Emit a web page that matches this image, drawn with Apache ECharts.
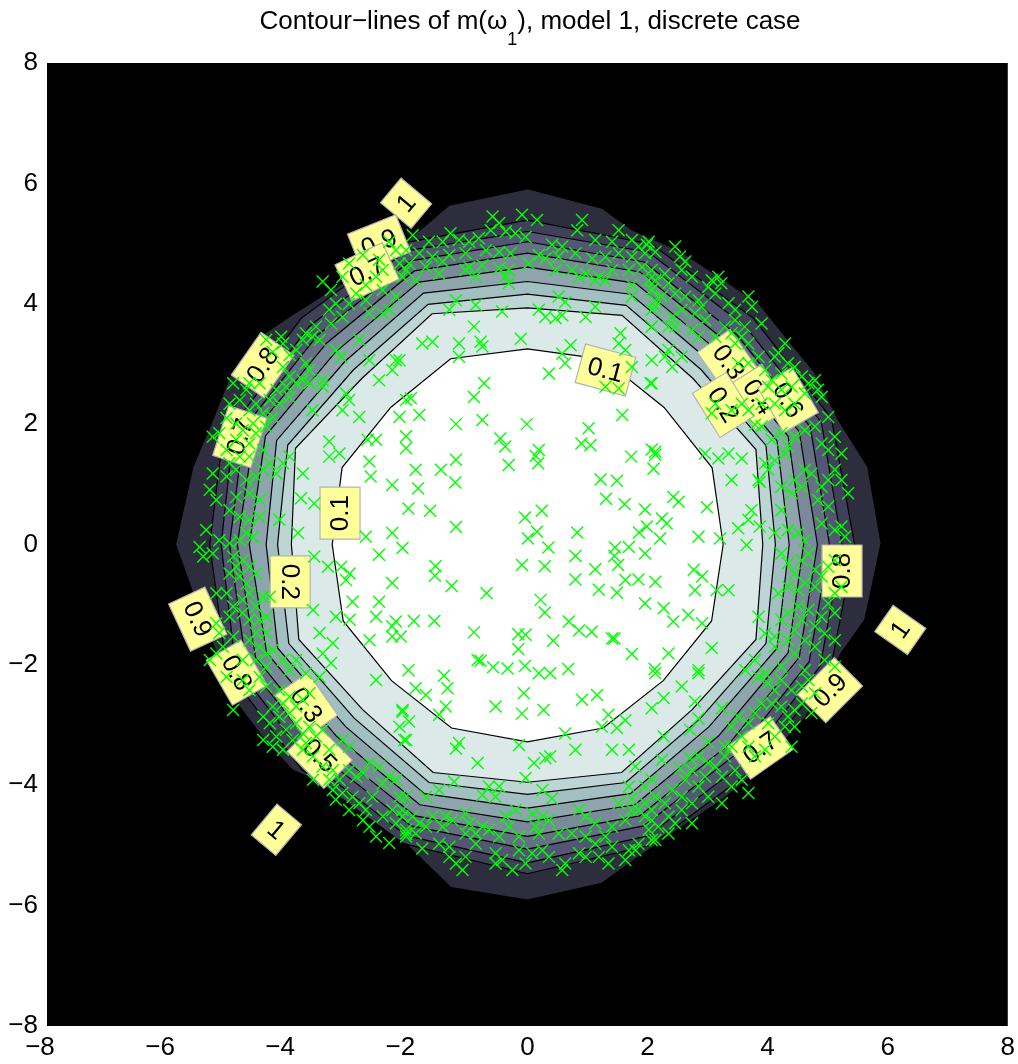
<!DOCTYPE html>
<html>
<head>
<meta charset="utf-8">
<script src="https://cdn.jsdelivr.net/npm/echarts@6/dist/echarts.min.js"></script>
<style>
  html, body { margin: 0; padding: 0; background: #ffffff; }
  #chart { width: 1018px; height: 1064px; }
</style>
</head>
<body>
<div id="chart"></div>
<script>
// ---- contour levels (inner ones given as radii every 22.5 degrees, counter-clockwise from +x) ----
const contourLevels = [0.1, 0.2, 0.3, 0.4, 0.5, 0.6, 0.7, 0.8, 0.9];
const radiusAngleStep = 22.5;
const levelRadii = [
  [3.26, 3.33, 3.22, 3.33, 3.25, 3.34, 3.22, 3.34, 3.25, 3.32, 3.20, 3.30, 3.28, 3.30, 3.20, 3.32],
  [3.92, 4.12, 3.90, 4.12, 3.93, 4.15, 3.90, 4.18, 3.93, 4.12, 3.88, 4.10, 3.95, 4.10, 3.88, 4.12],
  [4.13, 4.30, 4.10, 4.30, 4.16, 4.32, 4.10, 4.32, 4.16, 4.30, 4.08, 4.28, 4.15, 4.28, 4.08, 4.30],
  [4.36, 4.50, 4.30, 4.50, 4.37, 4.52, 4.30, 4.52, 4.35, 4.50, 4.28, 4.48, 4.38, 4.48, 4.28, 4.50],
  [4.60, 4.70, 4.52, 4.70, 4.61, 4.72, 4.52, 4.72, 4.63, 4.70, 4.50, 4.68, 4.61, 4.68, 4.50, 4.70],
  [4.83, 4.90, 4.73, 4.90, 4.84, 4.92, 4.73, 4.92, 4.83, 4.90, 4.72, 4.88, 4.85, 4.88, 4.72, 4.90],
  [5.03, 5.10, 4.93, 5.08, 5.03, 5.10, 4.93, 5.10, 4.96, 5.08, 4.92, 5.06, 5.06, 5.06, 4.92, 5.08],
  [5.24, 5.30, 5.13, 5.26, 5.20, 5.28, 5.13, 5.28, 5.10, 5.26, 5.12, 5.24, 5.29, 5.24, 5.12, 5.28],
  [5.45, 5.48, 5.32, 5.40, 5.39, 5.42, 5.32, 5.45, 5.29, 5.42, 5.30, 5.38, 5.47, 5.40, 5.30, 5.46]
];
// level 1 contour, vertex list
const outerContour = [
  [5.89, 0.02], [5.67, 1.29], [5.18, 2.07], [4.79, 2.85], [4.34, 3.40], [3.85, 4.01],
  [3.02, 4.56], [2.57, 4.86], [1.74, 5.23], [1.24, 5.59], [0, 5.91], [-1.30, 5.64],
  [-2.13, 4.94], [-3.13, 4.31], [-3.80, 3.89], [-4.46, 3.45], [-4.96, 2.78], [-5.24, 2.07],
  [-5.57, 1.29], [-5.86, 0], [-5.57, -0.81], [-5.18, -1.80], [-4.79, -2.70], [-4.35, -3.28],
  [-3.91, -3.75], [-3.25, -4.03], [-2.42, -4.58], [-1.80, -5.19], [-1.27, -5.70], [0, -5.91],
  [1.24, -5.63], [2.18, -4.96], [3.30, -4.20], [3.85, -3.75], [4.63, -2.87], [5.23, -1.80],
  [5.62, -1.25]
];
// fill inside each contour, outermost (level 1) first
const bandColors = ['#2d2d3e', '#404059', '#545474', '#676f87', '#7b8a9b',
                    '#8ea5ae', '#a2bfc2', '#bdd5d5', '#dce9e9', '#ffffff'];

// ---- contour labels ----
const labelTexts = ['1', '0.9', '0.7', '0.8', '0.7', '0.1', '0.2', '0.9', '0.8', '0.3', '0.5',
                    '1', '0.1', '0.3', '0.4', '0.6', '0.2', '0.8', '1', '0.9', '0.7'];
const labelAt = [[-2.02, 5.67], [-2.47, 5.01], [-2.67, 4.53], [-4.41, 2.98], [-4.79, 1.79],
                 [-3.12, 0.52], [-3.95, -0.62], [-5.49, -1.24], [-4.84, -2.13], [-3.68, -2.67],
                 [-3.46, -3.51], [-4.18, -4.74], [1.30, 2.90], [3.35, 3.03], [3.85, 2.45],
                 [4.34, 2.40], [3.26, 2.32], [5.24, -0.44], [6.21, -1.42], [5.04, -2.42],
                 [3.88, -3.38]];
const labelAngle = [50, 22, 25, 55, 72, 90, -90, -65, -60, -55, -45, -40, -15, -55, -58, -60,
                    -58, 90, 55, 45, 35];

// ---- observations (x marks) ----
const observations = [
  // centre
  [-1.19,2.00],[-0.75,2.07],[-0.01,2.00],[1.02,1.93],[-2.02,1.80],[-2.02,1.60],[-0.45,1.76],[-0.37,1.63],
  [0.19,1.57],[0.14,1.47],[0.18,1.35],[-0.31,1.32],[0.90,1.68],[1.05,1.65],[1.73,1.46],[2.07,1.58],
  [2.13,1.49],[2.10,1.26],[-1.86,1.24],[-1.44,1.24],[-1.19,1.41],[-1.20,1.03],[-1.82,0.93],[1.22,1.08],
  [1.49,1.06],[1.31,0.76],[1.62,0.67],[1.96,0.58],[-1.98,0.60],[-1.62,0.56],[-1.19,0.29],[-0.04,0.45],
  [0.24,0.56],[0.16,0.21],[0.01,0.10],[0.35,-0.05],[0.83,0.20],[1.86,0.20],[1.99,0.30],[1.46,-0.05],
  [1.69,-0.04],[1.45,-0.19],[1.96,-0.15],[1.51,-0.34],[-2.08,-0.06],[-1.53,-0.36],[-1.54,-0.52],
  [-1.26,-0.69],[-0.09,-0.34],[0.29,-0.36],[0.80,-0.19],[0.80,-0.58],[1.13,-0.41],[1.19,-0.75],
  [1.49,-0.80],[1.63,-0.59],[1.85,-0.58],[2.13,-0.62],[1.96,-0.98],[-0.68,-0.81],[0.22,-0.92],
  [0.29,-1.13],[-1.89,-1.27],[-1.55,-1.27],[-0.89,-1.46],[-0.15,-1.49],[-0.03,-1.50],[0.69,-1.28],
  [0.86,-1.43],[1.07,-1.45],[1.41,-1.56],[1.45,-1.56],[0.43,-1.60],[1.74,-1.82],[-0.15,-1.74],
  [-0.83,-1.92],[-0.78,-1.93],[-0.57,-2.04],[-0.33,-2.06],[-0.04,-2.02],[-1.98,-2.09],[-1.39,-2.18],
  [0.19,-2.14],[0.38,-2.14],[0.68,-2.07],[2.12,-2.07],[-2.11,-1.53],
  // top
  [-0.58,5.45],[-0.09,5.48],[0.16,5.39],[0.91,5.39],[1.52,5.22],[0.83,5.22],[-0.61,5.22],[-0.47,5.34],
  [-0.36,5.20],[-1.28,5.17],[-1.91,5.14],[-1.64,5.03],[-1.41,5.03],[-1.14,5.06],[-0.97,5.03],[-0.81,5.09],
  [-0.20,5.17],[-0.03,5.11],[0.41,4.98],[0.58,4.95],[1.13,5.06],[1.41,5.03],[1.74,5.06],[1.85,4.95],
  [1.99,4.98],[2.13,4.86],[-2.02,4.89],[-1.80,4.84],[-1.58,4.78],[-1.30,4.81],[-1.03,4.84],[-0.69,4.89],
  [-0.47,4.86],[-0.28,4.84],[0.19,4.81],[0.30,4.75],[0.52,4.78],[0.80,4.84],[1.08,4.75],[1.30,4.78],
  [1.52,4.84],[1.74,4.78],[1.96,4.84],[-1.97,4.67],[-1.69,4.61],[-1.41,4.70],[-0.97,4.61],[-0.75,4.64],
  [-0.47,4.59],[-0.31,4.56],[0.02,4.67],[0.47,4.56],[0.74,4.56],[0.97,4.50],[1.19,4.45],[1.41,4.56],
  [1.69,4.56],[1.91,4.61],[2.07,4.56],[-2.08,4.45],[-1.86,4.39],[-1.47,4.50],[-1.03,4.56],[-0.86,4.45],
  [-0.36,4.45],[-0.31,4.34],[0.86,4.45],[1.13,4.39],[1.30,4.39],[1.74,4.31],[2.02,4.39],[2.07,4.23],
  [-1.19,4.06],[-0.86,3.98],[-1.30,3.90],[-0.42,3.87],[0.19,3.90],[0.30,3.78],[0.52,4.12],[0.63,4.03],
  [0.47,3.76],[0.58,3.81],[0.97,3.78],[1.13,3.95],[1.74,4.12],[2.13,4.06],[2.07,3.90],[1.55,3.51],
  [2.07,3.62],[1.63,3.23],[-0.89,3.62],[-1.75,3.34],[-1.58,3.37],[-1.14,3.34],[-0.78,3.37],[-0.75,3.29],
  [-1.14,3.12],[-0.11,3.42],[0.72,3.31],[0.58,3.17],[0.63,3.01],[0.36,2.84],[1.52,3.34],[1.74,2.95],
  [2.07,3.06],[-2.13,3.06],[1.30,2.62],[1.52,2.59],[2.05,2.68],[-1.94,2.43],[-0.89,2.45],[-0.72,2.68],
  [-1.80,2.15],[1.58,2.15],
  // upper left
  [-3.41,4.37],[-3.27,4.23],[-3.08,4.45],[-2.97,4.67],[-2.74,4.81],[-2.47,4.73],[-2.30,5.03],[-2.19,4.89],
  [-2.13,4.67],[-2.02,4.56],[-2.41,4.56],[-2.52,4.45],[-2.69,4.31],[-2.85,4.17],[-2.97,4.00],[-3.19,4.00],
  [-3.30,3.90],[-3.08,3.78],[-3.27,3.67],[-3.52,3.62],[-3.69,3.51],[-3.58,3.45],[-3.46,3.40],[-3.74,3.40],
  [-3.85,3.23],[-3.96,3.15],[-4.10,3.45],[-4.07,3.34],[-4.35,3.40],[-4.24,3.20],[-4.07,2.95],[-3.96,2.79],
  [-3.85,2.68],[-3.69,3.01],[-3.63,2.90],[-3.74,2.73],[-4.02,2.62],[-4.18,2.57],[-3.96,2.45],[-4.13,2.34],
  [-4.29,2.40],[-4.46,2.68],[-4.63,2.68],[-4.68,2.57],[-4.79,2.40],[-4.90,2.68],[-4.96,2.34],[-5.01,2.10],
  [-4.85,2.01],[-4.63,2.23],[-4.52,2.34],[-4.40,2.18],[-4.57,2.01],[-4.35,1.96],[-4.24,2.12],[-2.80,3.40],
  [-2.63,3.06],[-3.19,3.23],[-3.10,3.12],[-3.02,2.51],[-2.97,2.40],[-3.41,2.73],[-3.41,2.62],[-3.58,2.23],
  [-3.63,2.68],[-3.08,2.23],[-2.80,2.12],[-2.47,2.73],[-2.25,2.90],[-2.19,3.06],[-2.13,2.12],[-2.02,2.40],
  [-2.30,3.90],[-2.41,3.84],[-2.19,4.12],[-2.41,4.23],[-2.69,4.06],[-2.63,3.84],
  // upper right
  [2.02,5.03],[2.46,4.95],[2.54,4.78],[2.63,4.70],[2.57,4.56],[2.74,4.45],[2.29,4.50],[2.13,4.39],
  [2.35,4.34],[2.07,4.23],[2.24,4.12],[2.46,4.17],[2.63,4.12],[2.85,4.06],[3.07,4.39],[3.18,4.45],
  [3.23,4.34],[3.01,4.28],[3.13,4.17],[2.90,3.95],[2.79,3.84],[2.57,3.90],[2.41,3.78],[2.35,3.62],
  [2.46,3.62],[2.13,3.95],[2.07,3.62],[2.74,3.56],[2.85,3.45],[2.96,3.73],[3.35,4.01],[3.46,3.90],
  [3.68,4.12],[3.74,3.95],[3.46,3.73],[3.29,3.62],[3.13,3.45],[3.40,3.51],[3.57,3.45],[3.62,3.62],
  [3.90,3.67],[3.68,3.34],[3.46,3.34],[3.51,3.01],[3.68,3.01],[3.85,3.12],[3.96,2.90],[4.12,3.12],
  [4.29,3.34],[4.18,3.18],[4.34,3.01],[4.45,2.95],[4.23,2.84],[4.07,2.73],[4.01,2.62],[4.23,2.57],
  [4.40,2.62],[4.57,2.79],[4.68,2.68],[4.79,2.73],[4.62,2.51],[4.84,2.57],[4.90,2.45],[4.45,2.34],
  [4.29,2.23],[4.12,2.34],[3.90,2.34],[3.68,2.23],[3.57,2.34],[3.40,2.23],[3.13,2.34],[3.07,2.18],
  [5.01,2.12],[2.29,3.12],[2.41,2.95],[2.07,2.68],[2.57,3.12],[2.35,3.23],
  // right
  [3.79,1.99],[3.90,1.96],[4.07,1.74],[4.23,1.85],[4.34,1.63],[4.45,1.79],[4.62,1.90],[4.79,1.96],
  [4.90,1.68],[5.01,1.57],[5.12,1.79],[5.23,1.51],[4.29,1.51],[4.12,1.40],[3.96,1.35],[3.85,1.07],
  [4.01,1.24],[4.23,0.96],[4.40,0.85],[4.45,1.07],[4.57,0.96],[4.62,1.24],[4.73,1.18],[4.90,0.96],
  [5.01,1.07],[5.12,1.24],[5.23,1.07],[5.34,0.85],[4.84,0.74],[5.01,0.63],[4.23,0.57],[4.12,0.19],
  [4.34,0.24],[4.51,0.19],[4.62,0.07],[4.90,0.35],[5.12,0.24],[5.23,0.30],[5.29,0.13],[4.23,-0.15],
  [4.34,-0.31],[4.45,-0.48],[4.57,-0.26],[4.68,-0.15],[4.79,-0.42],[4.90,-0.53],[5.01,-0.37],[5.12,-0.26],
  [4.62,-0.64],[4.79,-0.70],[4.51,-0.76],[4.34,-0.70],[4.18,-0.81],[5.12,-0.81],[5.23,-0.70],[5.01,-0.98],
  [5.12,-1.14],[4.90,-1.20],[4.68,-1.09],[4.51,-1.03],[4.34,-1.14],[4.57,-1.25],[4.23,-1.25],[4.12,-1.53],
  [3.96,-1.48],[3.85,-1.20],[4.45,-1.42],[4.79,-1.36],[4.95,-1.48],[5.12,-1.59],[4.62,-1.59],[4.34,-1.59],
  [4.79,-1.70],[4.12,-1.70],[4.45,-1.81],[4.95,-1.92],[5.12,-2.03],[3.79,-1.92],[3.63,-2.09],[3.96,-2.14],
  [4.62,-2.09],[4.23,-2.03],[2.13,1.54],[2.43,0.79],[2.52,0.71],[2.24,0.43],[2.32,0.35],[2.21,0.10],
  [2.85,0.13],[3.21,0.10],[2.99,0.62],[2.96,1.51],[3.18,1.43],[3.35,1.51],[3.57,1.43],[3.40,1.07],
  [3.73,0.57],[3.68,0.41],[3.51,0.27],[3.87,0.30],[3.65,-0.01],[3.87,1.04],[2.77,-0.42],[2.91,-0.53],
  [2.79,-0.76],[3.15,-0.76],[3.35,-0.76],[2.27,-1.06],[2.43,-1.28],[2.68,-1.17],[2.91,-1.31],[3.07,-1.72],
  [2.35,-1.81],[2.85,-2.09],
  // left
  [-5.24,1.79],[-5.13,1.85],[-5.01,1.57],[-4.85,1.74],[-4.74,1.90],[-4.63,1.68],[-4.52,1.85],[-4.40,1.57],
  [-4.63,1.46],[-4.79,1.46],[-4.96,1.35],[-5.24,1.18],[-5.29,0.91],[-5.18,0.74],[-5.01,1.13],[-4.85,1.24],
  [-4.68,1.07],[-4.52,1.13],[-4.40,1.24],[-4.29,1.35],[-4.18,1.18],[-4.07,1.35],[-3.96,1.46],[-4.85,0.79],
  [-4.63,0.85],[-4.46,0.74],[-4.96,0.57],[-4.79,0.46],[-4.63,0.41],[-4.46,0.46],[-5.35,0.24],[-5.46,-0.04],
  [-5.24,-0.15],[-5.40,-0.20],[-5.13,0.07],[-4.96,0.02],[-4.79,0.07],[-4.68,0.19],[-4.57,0.13],[-4.90,-0.20],
  [-4.74,-0.26],[-4.63,-0.37],[-4.85,-0.37],[-4.96,-0.48],[-4.79,-0.53],[-4.68,-0.65],[-4.52,-0.48],
  [-5.18,-0.81],[-5.01,-0.81],[-4.90,-1.03],[-4.74,-0.92],[-4.63,-0.81],[-4.52,-1.03],[-4.40,-0.87],
  [-4.35,-1.20],[-4.46,-1.25],[-4.63,-1.25],[-4.74,-1.14],[-4.96,-1.20],[-4.52,-1.47],[-4.35,-1.47],
  [-4.63,-1.59],[-4.46,-1.70],[-4.35,-1.81],[-4.24,-1.75],[-4.07,-1.92],[-3.96,-2.09],[-4.35,-2.03],
  [-4.74,-1.92],[-4.52,-1.92],[-5.18,-1.31],[-5.13,-1.47],[-5.07,-1.70],[-4.90,-1.53],[-5.18,-1.81],
  [-5.29,-1.92],[-4.29,-0.87],[-4.13,0.41],[-3.74,1.18],[-3.77,0.77],[-3.55,0.68],[-3.82,0.19],
  [-3.30,1.71],[-3.30,1.46],[-3.13,1.51],[-2.66,1.74],[-2.52,1.74],[-2.63,1.38],[-2.61,1.13],[-2.25,0.99],
  [-2.69,0.13],[-2.47,-0.17],[-2.25,0.19],[-3.55,-0.20],[-3.32,-0.37],[-3.10,-0.37],[-2.96,-0.48],
  [-3.02,-0.59],[-2.25,-0.64],[-2.91,-0.95],[-2.47,-0.95],[-3.57,-1.09],[-3.19,-1.20],[-2.96,-1.25],
  [-2.52,-1.20],[-2.19,-1.28],[-3.46,-1.47],[-3.24,-1.64],[-3.41,-1.81],[-3.27,-1.97],[-3.85,-1.92],
  [-3.69,-2.14],[-2.63,-1.59],[-2.25,-1.36],[-2.25,-1.53],
  // lower left
  [-4.90,-2.75],[-5.01,-2.20],[-4.74,-2.25],[-4.63,-2.42],[-4.46,-2.20],[-4.35,-2.36],[-4.13,-2.42],
  [-3.96,-2.53],[-4.07,-2.64],[-4.24,-2.69],[-4.40,-2.86],[-4.29,-2.97],[-4.13,-2.86],[-3.96,-2.80],
  [-3.85,-2.69],[-3.74,-2.58],[-3.63,-2.47],[-3.46,-2.20],[-3.85,-2.97],[-4.02,-3.08],[-4.18,-3.19],
  [-4.40,-3.25],[-4.24,-3.36],[-4.07,-3.41],[-3.91,-3.25],[-3.74,-3.14],[-3.63,-3.03],[-3.74,-3.41],
  [-3.57,-3.52],[-3.69,-3.30],[-3.52,-3.19],[-3.41,-3.08],[-3.30,-3.41],[-3.41,-3.69],[-3.24,-3.75],
  [-3.08,-3.25],[-2.97,-3.36],[-3.57,-3.91],[-3.30,-3.91],[-3.13,-3.91],[-3.24,-4.08],[-3.19,-4.24],
  [-2.97,-3.75],[-2.85,-3.86],[-2.74,-3.80],[-2.63,-3.63],[-2.47,-3.69],[-3.08,-4.13],[-2.91,-4.19],
  [-2.80,-4.30],[-2.97,-4.41],[-2.69,-4.41],[-2.58,-4.19],[-2.41,-3.97],[-2.30,-3.86],[-2.74,-4.58],
  [-2.63,-4.69],[-2.52,-4.85],[-2.30,-4.96],[-2.41,-4.52],[-2.25,-4.41],[-2.19,-4.63],[-2.08,-4.52],
  [-2.02,-4.80],[-2.13,-4.19],[-2.19,-3.91],[-2.52,-2.25],[-2.08,-2.75],[-2.02,-3.25],[-2.13,-3.03],
  // bottom
  [-1.86,-2.39],[-1.69,-2.50],[-1.33,-2.39],[-1.36,-2.69],[-1.47,-2.83],[-2.08,-2.78],[-1.97,-2.94],
  [-0.53,-2.69],[-0.06,-2.47],[-0.09,-2.81],[0.27,-2.75],[0.91,-2.58],[1.16,-2.50],[1.35,-2.83],
  [1.24,-3.03],[1.49,-3.05],[1.63,-2.92],[2.07,-2.72],[-2.05,-3.25],[-1.14,-3.30],[-1.19,-3.39],
  [-0.14,-3.33],[0.63,-3.14],[0.80,-3.41],[0.38,-3.52],[0.30,-3.55],[1.41,-3.41],[1.69,-3.41],
  [-0.83,-3.63],[0.11,-3.63],[-0.03,-3.88],[1.80,-3.69],[-0.64,-4.02],[-0.47,-4.02],[-1.22,-3.94],
  [-1.47,-4.08],[-1.69,-4.19],[-2.02,-4.19],[-0.75,-4.16],[-0.53,-4.19],[0.25,-4.08],[0.41,-4.22],
  [1.69,-4.02],[1.96,-4.02],[2.07,-3.91],[1.52,-4.30],[1.74,-4.22],[1.96,-4.30],
  [-2.08,-4.41],[-1.91,-4.52],[-1.80,-4.63],[-2.02,-4.74],[-1.86,-4.80],[-1.69,-4.69],[-1.58,-4.52],
  [-1.36,-4.52],[-1.41,-4.69],[-1.25,-4.58],[-1.03,-4.47],[-0.97,-4.63],[-1.03,-4.80],[-0.86,-4.80],
  [-0.75,-4.69],[-0.64,-4.74],[-0.47,-4.85],[-0.31,-4.69],[-0.36,-4.52],[-0.20,-4.41],[0.08,-4.47],
  [0.25,-4.52],[0.14,-4.69],[0.19,-4.80],[0.36,-4.58],[0.52,-4.80],[0.74,-4.80],[0.86,-4.41],
  [0.97,-4.52],[1.13,-4.63],[0.97,-4.85],[1.13,-4.97],[1.30,-4.85],[1.41,-4.69],[1.63,-4.58],
  [1.74,-4.41],[1.85,-4.41],[1.96,-4.52],[2.07,-4.41],[2.02,-4.74],[1.85,-4.97],[1.69,-5.08],
  [1.41,-5.02],[1.19,-5.19],[0.97,-5.19],[0.86,-5.13],[1.35,-5.30],[1.63,-5.24],[0.63,-5.30],
  [0.58,-5.41],[0.36,-5.19],[0.25,-5.08],[0.08,-5.13],[-0.03,-5.30],[-0.14,-5.08],[-0.25,-5.41],
  [-0.42,-5.24],[-0.53,-5.30],[-0.53,-5.13],[-0.86,-4.97],[-1.03,-5.19],[-1.19,-5.30],[-1.08,-5.41],
  [-1.30,-5.19],[-1.30,-5.02],[-1.47,-4.97],[-1.75,-5.05],[-2.02,-4.85],[-0.14,-4.85],[2.07,-4.91],
  [1.80,-5.08],
  // lower right
  [2.13,-2.14],[2.85,-2.14],[2.57,-2.36],[2.27,-2.55],[2.79,-2.61],[3.24,-2.72],[2.85,-2.89],
  [2.71,-3.08],[2.27,-3.19],[3.01,-3.28],[3.29,-3.36],[2.24,-3.58],[2.71,-3.55],[2.54,-3.72],
  [3.85,-2.20],[4.01,-2.31],[4.12,-2.42],[4.23,-2.25],[4.40,-2.42],[4.57,-2.36],[4.68,-2.25],
  [4.79,-2.47],[4.57,-2.64],[4.45,-2.75],[4.34,-2.86],[4.23,-2.69],[4.07,-2.64],[3.90,-2.64],
  [3.79,-2.80],[3.68,-2.97],[3.51,-2.86],[3.40,-3.03],[3.57,-3.19],[3.68,-3.36],[3.79,-3.52],
  [3.96,-3.41],[4.12,-3.19],[4.29,-3.03],[4.45,-3.03],[4.40,-3.36],[4.73,-2.80],[4.01,-2.97],
  [3.40,-3.36],[3.29,-3.52],[3.13,-3.69],[3.24,-3.86],[3.40,-4.02],[3.57,-3.91],[3.46,-3.75],
  [3.68,-4.13],[2.96,-3.86],[2.85,-4.02],[3.01,-4.19],[3.24,-4.30],[2.74,-4.30],[2.57,-4.41],
  [2.35,-4.52],[2.46,-4.63],[2.18,-4.69],[2.74,-4.63],[2.35,-4.80],[2.13,-4.91],[2.07,-4.58],
  [2.57,-4.19],[2.29,-4.30],[2.41,-4.08],[2.13,-4.19],[2.63,-3.91],[2.74,-3.75],[3.01,-3.63],
  [2.85,-3.52]
];

// ---- axis ticks ----
const axisMin = -8, axisMax = 8, tickStep = 2;

// build the closed contour polygons, outermost first
const innerPolys = levelRadii.map(radii => radii.map((r, k) => {
  const a = k * radiusAngleStep * Math.PI / 180;
  return [r * Math.cos(a), r * Math.sin(a)];
}));
const fillPolys = [outerContour].concat(innerPolys.slice().reverse());

const FONT = '"Liberation Sans", Arial, Helvetica, sans-serif';
// negative tick labels get a wide minus, the block sits slightly left of its tick
const xTickFmt = v => (v < 0 ? '{n|\u2212' + Math.abs(v) + '}' : String(v));
const yTickFmt = v => (v < 0 ? '\u2212' + Math.abs(v) : String(v));

const chart = echarts.init(document.getElementById('chart'), null, { renderer: 'canvas' });
chart.setOption({
  animation: false,
  backgroundColor: '#ffffff',
  title: {
    text: '{a|Contour\u2212lines of m(\u03c9}{s|1}{a|), model 1, discrete case}',
    left: 530, top: 9, textAlign: 'center', padding: 0,
    textStyle: {
      fontWeight: 'normal',
      rich: {
        a: { fontSize: 26, fontFamily: FONT, fontWeight: 'normal', color: '#000', lineHeight: 30, verticalAlign: 'top' },
        s: { fontSize: 18, fontFamily: FONT, fontWeight: 'normal', color: '#000', lineHeight: 40, verticalAlign: 'bottom' }
      }
    }
  },
  grid: { left: 47, top: 63, width: 963, height: 963, show: true, backgroundColor: '#000000', borderWidth: 0 },
  xAxis: {
    type: 'value', min: axisMin, max: axisMax, interval: tickStep,
    axisLine: { show: false }, axisTick: { show: false }, splitLine: { show: false },
    axisLabel: {
      fontSize: 26, fontFamily: FONT, color: '#000', margin: 9, formatter: xTickFmt,
      rich: { n: { fontSize: 26, fontFamily: FONT, color: '#000', padding: [0, 14, 0, 0] } }
    }
  },
  yAxis: {
    type: 'value', min: axisMin, max: axisMax, interval: tickStep,
    axisLine: { show: false }, axisTick: { show: false }, splitLine: { show: false },
    axisLabel: { fontSize: 26, fontFamily: FONT, color: '#000', margin: 9, formatter: yTickFmt }
  },
  series: [
    {
      // filled bands with their contour lines
      type: 'custom', coordinateSystem: 'cartesian2d', silent: true,
      data: fillPolys.map(() => [0, 0]),
      renderItem: (params, api) => {
        const pts = fillPolys[params.dataIndex].map(p => api.coord(p));
        return {
          type: 'polygon',
          shape: { points: pts },
          style: { fill: bandColors[params.dataIndex], stroke: '#000000', lineWidth: 1.2 }
        };
      }
    },
    {
      // inline level labels
      type: 'custom', coordinateSystem: 'cartesian2d', silent: true,
      data: labelAt,
      renderItem: (params, api) => {
        const i = params.dataIndex;
        const c = api.coord([api.value(0), api.value(1)]);
        const txt = labelTexts[i];
        const w = txt.length === 1 ? 32 : 52;
        const h = 40;
        return {
          type: 'group', x: c[0], y: c[1], rotation: labelAngle[i] * Math.PI / 180,
          children: [
            { type: 'rect', shape: { x: -w / 2, y: -h / 2, width: w, height: h },
              style: { fill: '#ffff99', stroke: '#b3b3b3', lineWidth: 1.2 } },
            { type: 'text', style: { text: txt, x: 0, y: 1, align: 'center', verticalAlign: 'middle',
              font: '26px ' + FONT, fill: '#000000' } }
          ]
        };
      }
    },
    {
      // observations drawn as x marks
      type: 'custom', coordinateSystem: 'cartesian2d', silent: true,
      data: observations,
      renderItem: (params, api) => {
        const c = api.coord([api.value(0), api.value(1)]);
        const s = 6;
        const st = { stroke: '#00ff00', lineWidth: 1.4 };
        return {
          type: 'group',
          children: [
            { type: 'line', shape: { x1: c[0] - s, y1: c[1] - s, x2: c[0] + s, y2: c[1] + s }, style: st },
            { type: 'line', shape: { x1: c[0] - s, y1: c[1] + s, x2: c[0] + s, y2: c[1] - s }, style: st }
          ]
        };
      }
    }
  ]
});
</script>
</body>
</html>
